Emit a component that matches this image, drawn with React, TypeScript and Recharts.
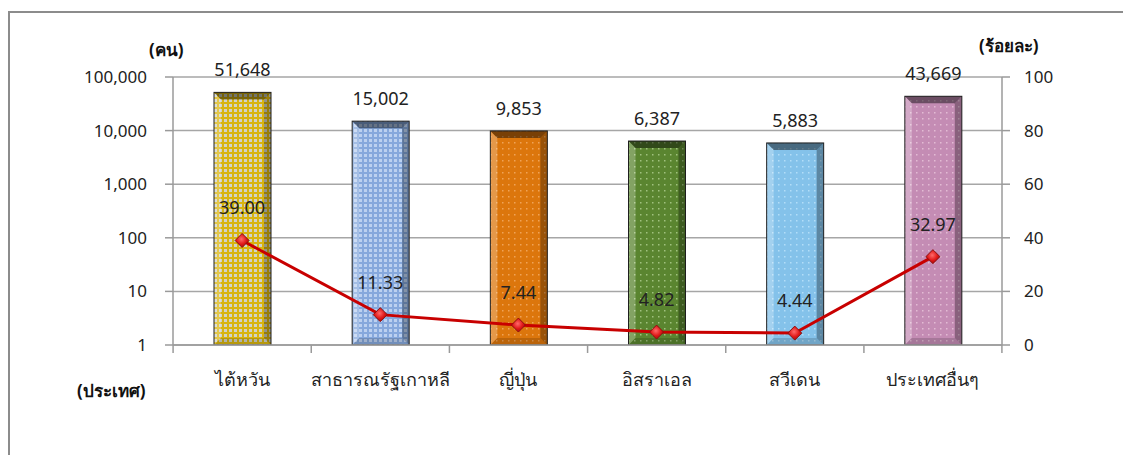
import { ComposedChart, Bar, Line, XAxis, YAxis, CartesianGrid, LabelList } from 'recharts';

const countries = ['ไต้หวัน', 'สาธารณรัฐเกาหลี', 'ญี่ปุ่น', 'อิสราเอล', 'สวีเดน', 'ประเทศอื่นๆ'];
const persons = [51648, 15002, 9853, 6387, 5883, 43669];
const percents = [39.0, 11.33, 7.44, 4.82, 4.44, 32.97];
const leftTicks = [1, 10, 100, 1000, 10000, 100000];
const rightTicks = [0, 20, 40, 60, 80, 100];

// bar colours: base + pattern dot colour
const barBase = ['#d8b410', '#86a8dc', '#dc760c', '#5a8530', '#84c2ea', '#c48cb4'];
const barDot = ['#d0d8ea', '#c6d8f4', '#f2a860', '#a8c888', '#b8e0fa', '#e6c0d8'];

const data = countries.map((name, i) => ({ name, persons: persons[i], percent: percents[i] }));

const FONT = "Tahoma, 'Noto Sans', 'DejaVu Sans', sans-serif";
const HALF_BAND = 69;

function BevelBar(props: any) {
  const { x, y, width: w, height: h, index } = props;
  if (h <= 0) return null;
  const b = 7;
  return (
    <g>
      <rect x={x} y={y} width={w} height={h} fill={`url(#pat${index})`} />
      <polygon points={`${x},${y} ${x + w},${y} ${x + w - b},${y + b} ${x + b},${y + b}`} fill="#000" fillOpacity={0.45} />
      <polygon points={`${x},${y} ${x + b},${y + b} ${x + b},${y + h - b} ${x},${y + h}`} fill="#fff" fillOpacity={0.25} />
      <polygon points={`${x + w},${y} ${x + w},${y + h} ${x + w - b},${y + h - b} ${x + w - b},${y + b}`} fill="#000" fillOpacity={0.3} />
      <polygon points={`${x},${y + h} ${x + b},${y + h - b} ${x + w - b},${y + h - b} ${x + w},${y + h}`} fill="#000" fillOpacity={0.15} />
      <rect x={x} y={y} width={w} height={h} fill="none" stroke="#1e1e1e" strokeWidth={1} />
    </g>
  );
}

function Diamond(props: any) {
  const { cx, cy } = props;
  if (cx == null || cy == null) return null;
  const r = 7;
  return (
    <polygon
      points={`${cx},${cy - r} ${cx + r},${cy} ${cx},${cy + r} ${cx - r},${cy}`}
      fill="url(#dia)"
      stroke="#8a1010"
      strokeWidth={1}
    />
  );
}

function CategoryTick(props: any) {
  const { x, y, payload, index } = props;
  return (
    <g>
      <line x1={x - HALF_BAND} y1={y - 8} x2={x - HALF_BAND} y2={y} stroke="#9a9a9a" strokeWidth={1.5} />
      {index === countries.length - 1 && (
        <line x1={x + HALF_BAND} y1={y - 8} x2={x + HALF_BAND} y2={y} stroke="#9a9a9a" strokeWidth={1.5} />
      )}
      <text x={x} y={y + 33} textAnchor="middle" fontSize={18} fill="#222" fontFamily={FONT}>
        {payload.value}
      </text>
    </g>
  );
}

const titleStyle: React.CSSProperties = {
  position: 'absolute',
  fontFamily: FONT,
  fontWeight: 'bold',
  fontSize: 17,
  color: '#111',
  whiteSpace: 'nowrap',
  lineHeight: '20px',
};

export default function App() {
  return (
    <div style={{ position: 'relative', width: 1123, height: 447, overflow: 'hidden' }}>
      <div
        style={{
          position: 'absolute',
          left: 0,
          top: 3,
          width: 1200,
          height: 600,
          borderTop: '2px solid #8c8c8c',
          borderLeft: '2px solid #8c8c8c',
        }}
      />
      <ComposedChart
        width={1123}
        height={447}
        data={data}
        margin={{ top: 69, right: 69, bottom: 70, left: 65 }}
        style={{ position: 'absolute', left: 0, top: 0 }}
      >
        <defs>
          {barBase.map((c, i) => (
            <pattern key={i} id={`pat${i}`} width={i < 2 ? 5 : 6} height={i < 2 ? 5 : 6} patternUnits="userSpaceOnUse">
              <rect width={6} height={6} fill={c} />
              {i < 2 ? (
                <rect x={1} y={1} width={3} height={3} fill={barDot[i]} opacity={0.85} />
              ) : (
                <rect x={2} y={2} width={1.5} height={1.5} fill={barDot[i]} opacity={0.9} />
              )}
            </pattern>
          ))}
          <radialGradient id="dia" cx="45%" cy="40%" r="60%">
            <stop offset="0%" stopColor="#ff6a6a" />
            <stop offset="60%" stopColor="#e01818" />
            <stop offset="100%" stopColor="#a80e0e" />
          </radialGradient>
        </defs>
        <CartesianGrid yAxisId="left" vertical={false} stroke="#a6a6a6" strokeWidth={1.5} />
        <XAxis
          dataKey="name"
          height={40}
          axisLine={{ stroke: '#9a9a9a', strokeWidth: 1.5 }}
          tickLine={false}
          tick={<CategoryTick />}
          interval={0}
        />
        <YAxis
          yAxisId="left"
          scale="log"
          domain={[1, 100000]}
          ticks={leftTicks}
          allowDataOverflow
          width={100}
          axisLine={{ stroke: '#9a9a9a', strokeWidth: 1.5 }}
          tickLine={{ stroke: '#9a9a9a', strokeWidth: 1.5 }}
          tickSize={8}
          tickMargin={18}
          tick={{ fontSize: 17, fill: '#222', fontFamily: FONT }}
          tickFormatter={(v: number) => v.toLocaleString('en-US')}
        />
        <YAxis
          yAxisId="right"
          orientation="right"
          domain={[0, 100]}
          ticks={rightTicks}
          width={60}
          axisLine={{ stroke: '#9a9a9a', strokeWidth: 1.5 }}
          tickLine={{ stroke: '#9a9a9a', strokeWidth: 1.5 }}
          tickSize={8}
          tickMargin={14}
          tick={{ fontSize: 17, fill: '#222', fontFamily: FONT, textAnchor: 'start' }}
        />
        <Bar yAxisId="left" dataKey="persons" barSize={57} shape={<BevelBar />} isAnimationActive={false}>
          <LabelList
            dataKey="persons"
            position="top"
            offset={16}
            fontSize={18}
            fill="#222"
            fontFamily={FONT}
            formatter={(v: any) => Number(v).toLocaleString('en-US')}
          />
        </Bar>
        <Line
          yAxisId="right"
          dataKey="percent"
          type="linear"
          stroke="#c80000"
          strokeWidth={3}
          dot={<Diamond />}
          activeDot={false}
          isAnimationActive={false}
        >
          <LabelList
            dataKey="percent"
            position="top"
            offset={26}
            fontSize={18}
            fill="#222"
            fontFamily={FONT}
            formatter={(v: any) => Number(v).toFixed(2)}
          />
        </Line>
      </ComposedChart>
      <div style={{ ...titleStyle, left: 141, top: 32 }}>(คน)</div>
      <div style={{ ...titleStyle, left: 971, top: 28 }}>(ร้อยละ)</div>
      <div style={{ ...titleStyle, left: 69, top: 373 }}>(ประเทศ)</div>
    </div>
  );
}
